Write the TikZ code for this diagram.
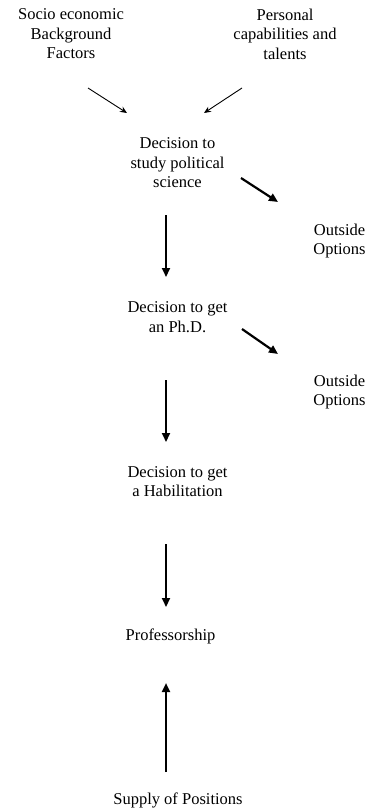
\documentclass[tikz,border=0pt]{standalone}
\usepackage{fontspec}
\setmainfont{Liberation Serif}
\usetikzlibrary{arrows.meta,positioning}

\begin{document}
\begin{tikzpicture}[x=1pt,y=1pt,
	lbl/.style={align=center,inner sep=0pt,font=\fontsize{16.5}{19.5}\selectfont},
	thinarr/.style={-{Stealth[length=7pt,width=6pt]},line width=0.9pt},
	arr/.style={-{Triangle[length=9pt,width=8pt]},line width=2.2pt}
	]
	\useasboundingbox (0,0) rectangle (370,-809);
	\node[lbl] (socio) at (71,-34) {Socio economic\\Background\\Factors};
	\node[lbl] (pers) at (285,-34) {Personal\\capabilities and\\talents};
	\node[lbl] (study) at (177.5,-163) {Decision to\\study political\\science};
	\node[lbl] (out1) at (339.5,-241) {Outside\\Options};
	\node[lbl] (phd) at (177.5,-317) {Decision to get\\an Ph.D.};
	\node[lbl] (out2) at (339.5,-392) {Outside\\Options};
	\node[lbl] (habil) at (177.5,-481.5) {Decision to get\\a Habilitation};
	\node[lbl] (prof) at (170.5,-636) {Professorship};
	\node[lbl] (supply) at (178,-800) {Supply of Positions};
	% influences
	\draw[thinarr] ([shift={(17,-54)}]socio.center) -- ([shift={(-50.5,50)}]study.center);
	\draw[thinarr] ([shift={(-43,-54)}]pers.center) -- ([shift={(26.5,50)}]study.center);
	% exits
	\draw[arr] ([shift={(63.5,-15)}]study.center) -- ([shift={(-61.5,39)}]out1.center);
	\draw[arr] ([shift={(64.5,-12)}]phd.center) -- ([shift={(-61.5,38)}]out2.center);
	% career path
	\draw[arr] ([shift={(-11.5,-52)}]study.center) -- ([shift={(-11.5,40)}]phd.center);
	\draw[arr] ([shift={(-11.5,-63)}]phd.center) -- ([shift={(-11.5,39.5)}]habil.center);
	\draw[arr] ([shift={(-11.5,-62.5)}]habil.center) -- ([shift={(-4.5,29)}]prof.center);
	\draw[arr] ([shift={(-12,28)}]supply.center) -- ([shift={(-4.5,-47)}]prof.center);
\end{tikzpicture}
\end{document}
